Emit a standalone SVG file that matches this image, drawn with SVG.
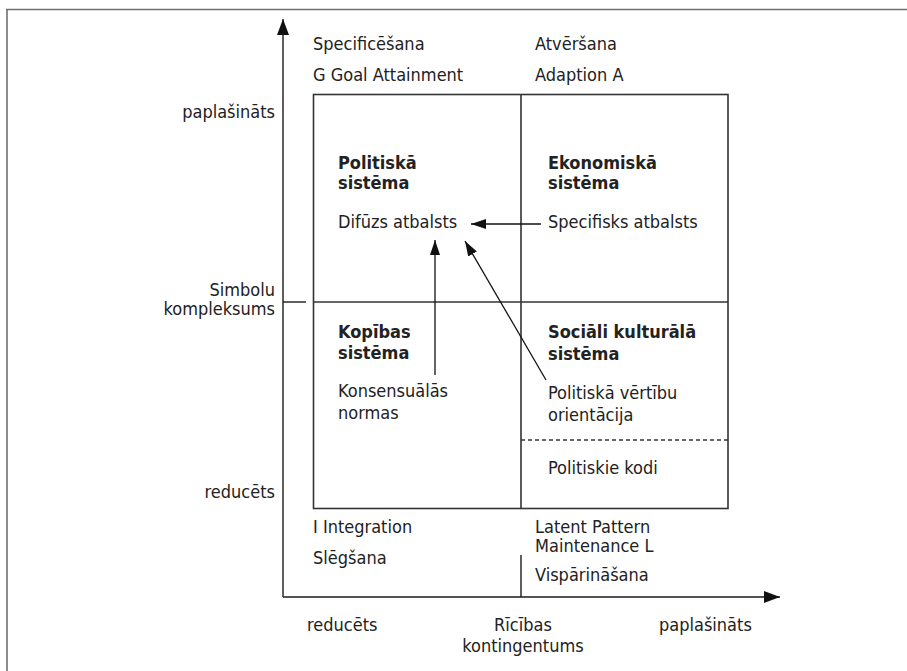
<svg xmlns="http://www.w3.org/2000/svg" width="907" height="671" viewBox="0 0 907 671">
<style>
text{font-family:"DejaVu Sans Condensed","DejaVu Sans",sans-serif;font-stretch:condensed;font-size:18px;fill:#222}
.b{font-weight:bold}
.r{text-anchor:end}
.m{text-anchor:middle}
.ax{stroke:#1a1a1a;stroke-width:1.4;fill:none}
.box{stroke:#333;stroke-width:1.6;fill:none}
.con{stroke:#111;stroke-width:1.3;fill:none}
</style>
<defs>
<marker id="ah" markerUnits="userSpaceOnUse" markerWidth="16" markerHeight="12" refX="16" refY="6" orient="auto">
<path d="M0,0 L16,6 L0,12 Z" fill="#111"/>
</marker>
<marker id="sh" markerUnits="userSpaceOnUse" markerWidth="15" markerHeight="10" refX="15" refY="5" orient="auto">
<path d="M0,0 L15,5 L0,10 Z" fill="#111"/>
</marker>
</defs>
<rect width="907" height="671" fill="#fff"/>
<path d="M6,9.5 H907 M7,9 V671" stroke="#707070" stroke-width="1.6" fill="none"/>

<g id="axes">
<line class="ax" x1="283" y1="597" x2="283" y2="19" marker-end="url(#ah)"/>
<line class="ax" x1="283" y1="597" x2="780" y2="597" marker-end="url(#ah)"/>
<line class="ax" x1="283" y1="302" x2="306" y2="302"/>
<line class="ax" x1="521" y1="555" x2="521" y2="597"/>
<text class="r" x="275" y="118">paplašināts</text>
<text class="r" x="275" y="295.5">Simbolu</text>
<text class="r" x="275" y="315">kompleksums</text>
<text class="r" x="275" y="498">reducēts</text>
<text x="307" y="631">reducēts</text>
<text class="m" x="523" y="631">Rīcības</text>
<text class="m" x="523" y="652">kontingentums</text>
<text x="659" y="631">paplašināts</text>
</g>

<g id="functions">
<text x="313" y="50">Specificēšana</text>
<text x="313" y="81">G Goal Attainment</text>
<text x="535" y="50">Atvēršana</text>
<text x="535" y="81">Adaption A</text>
<text x="313" y="533">I Integration</text>
<text x="313" y="564">Slēgšana</text>
<text x="535" y="533">Latent Pattern</text>
<text x="535" y="552">Maintenance L</text>
<text x="535" y="581">Vispārināšana</text>
</g>

<g id="grid">
<rect class="box" x="313.5" y="94.5" width="414.5" height="414"/>
<line class="box" x1="521" y1="94.5" x2="521" y2="508.5"/>
<line class="box" x1="313.5" y1="302" x2="728" y2="302"/>
</g>

<g id="politiska">
<text class="b" x="338" y="169">Politiskā</text>
<text class="b" x="338" y="189">sistēma</text>
<text x="338" y="228">Difūzs atbalsts</text>
</g>

<g id="ekonomiska">
<text class="b" x="548" y="169">Ekonomiskā</text>
<text class="b" x="548" y="189">sistēma</text>
<text x="548" y="228">Specifisks atbalsts</text>
</g>

<g id="kopibas">
<text class="b" x="338" y="338">Kopības</text>
<text class="b" x="338" y="359">sistēma</text>
<text x="338" y="397">Konsensuālās</text>
<text x="338" y="419">normas</text>
</g>

<g id="sociali">
<text class="b" x="548" y="338">Sociāli kulturālā</text>
<text class="b" x="548" y="360">sistēma</text>
<text x="548" y="399">Politiskā vērtību</text>
<text x="548" y="421">orientācija</text>
<line x1="521" y1="440" x2="728" y2="440" stroke="#333" stroke-width="1.3" stroke-dasharray="4,3"/>
<text x="548" y="474">Politiskie kodi</text>
</g>

<g id="connectors">
<line class="con" x1="541" y1="224" x2="471" y2="224" marker-end="url(#sh)"/>
<line class="con" x1="435" y1="375" x2="435" y2="240" marker-end="url(#sh)"/>
<line class="con" x1="546" y1="380" x2="465" y2="241" stroke-width="1.1" marker-end="url(#sh)"/>
</g>
</svg>
